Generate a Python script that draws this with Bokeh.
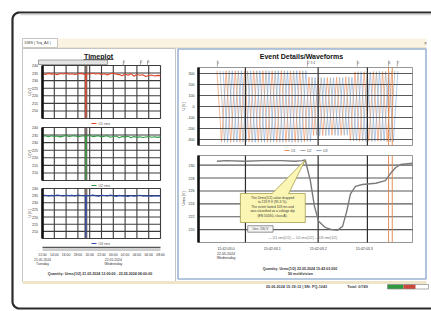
import numpy as np
from bokeh.plotting import figure
from bokeh.models import Range1d
from bokeh.core.properties import value
from bokeh.embed import file_html
from bokeh.resources import INLINE

# ---------------- data ----------------
tab_label = "DMS | Tsq_A4 |"
left_title = "Timeplot"
right_title = "Event Details/Waveforms"

# trend (Timeplot): hours since midnight of 21.05.2024
hours = [12.0, 12.5, 13.0, 13.5, 14.0, 14.5, 15.0, 15.5, 16.0, 16.5, 17.0, 17.5, 18.0, 18.5, 19.0,
         19.3, 19.35, 19.4,
         19.5, 20.0, 20.5, 21.0, 21.5, 22.0, 22.5, 23.0, 23.5, 24.0, 24.5, 25.0, 25.5, 26.0, 26.5,
         27.0, 27.5, 28.0, 28.5, 29.0, 29.5, 30.0, 30.5, 31.0, 31.5, 32.0]
u1_trend = [234.6, 234.1, 234.8, 234.3, 234.5, 233.9, 234.7, 234.4, 234.9, 234.2, 234.6, 234.0, 234.5, 234.8, 234.3,
            234.1, 205.5, 233.9,
            234.6, 234.2, 234.9, 234.4, 234.7, 234.1, 234.6, 233.8, 234.5, 234.9, 234.3, 234.0, 233.2, 234.4, 233.5,
            234.6, 232.9, 234.1, 233.6, 233.9, 232.8, 233.4, 233.7, 233.1, 233.5, 233.3]
u2_trend = [234.2, 234.5, 233.9, 234.6, 234.1, 234.4, 233.8, 234.3, 234.7, 234.0, 234.4, 234.6, 233.9, 234.2, 234.5,
            234.0, 205.5, 233.8,
            234.4, 234.7, 234.0, 234.3, 234.6, 233.7, 234.2, 234.5, 233.6, 234.1, 234.4, 233.3, 234.0, 233.8, 234.3,
            233.2, 234.0, 233.5, 233.9, 233.4, 233.7, 234.0, 233.6, 233.9, 233.5, 233.8]
u3_trend = [235.0, 235.3, 234.8, 235.2, 234.9, 235.4, 235.1, 234.7, 235.3, 235.0, 235.2, 234.8, 235.4, 235.1, 234.9,
            235.0, 205.5, 234.8,
            235.2, 234.9, 235.5, 235.0, 234.6, 235.3, 235.1, 234.8, 235.4, 234.9, 234.5, 235.2, 234.7, 235.0, 234.4,
            235.1, 234.6, 234.9, 235.3, 234.7, 234.8, 235.0, 234.6, 234.9, 234.7, 234.8]
trend_names = ["U1 rms", "U2 rms", "U3 rms"]
trend_ymin, trend_ymax = 205, 240
trend_grid_y = [205, 210, 215, 220, 225, 230, 235, 240]
trend_yticks = [210, 215, 220, 225, 230, 235, 240]
trend_xmin, trend_xmax = 12, 32
trend_grid_x = [12, 14, 16, 18, 20, 22, 24, 26, 28, 30, 32]
trend_xtick_labels = ["12:00", "14:00", "16:00", "18:00", "20:00", "22:00",
                      "00:00", "02:00", "04:00", "06:00", "08:00"]
trend_date_hours = [12, 24]
trend_dates = ["21.05.2024", "22.05.2024"]
trend_days = ["Tuesday", "Wednesday"]
trend_event_hour = [19.35]
trend_marker_hours = [25.7, 28.6, 29.8]
trend_marker_labels = ["1", "2", "3"]
trend_caption = "Quantity: Urms(1/2)  21.05.2024 12:00:00 - 22.05.2024 08:00:00"

# waveforms (ms from 15:42:03.000), peak samples every half period
wave_t = np.arange(39) * 10 - 20
phase_shift_ms = [0.0, 6.67, 13.33]
ua_peaks = [326, -324, 325, -326, 324, -325, 326, -324, 325, -325,
            324, -326, 325, -324, 326, -325, 324, -325, 325, -323,
            268, -264, 262, -265, 263, -262, 266, -264, 270, -312,
            316, -318, 317, -318, 319, -317, 318, -321, 324]
ub_peaks = [325, -325, 326, -324, 325, -326, 324, -325, 325, -324,
            326, -325, 324, -326, 325, -324, 325, -326, 324, -318,
            265, -262, 264, -266, 261, -263, 265, -262, 268, -315,
            317, -316, 318, -319, 317, -318, 320, -322, 325]
uc_peaks = [324, -326, 325, -325, 326, -324, 325, -326, 324, -325,
            325, -324, 326, -325, 324, -326, 325, -324, 326, -320,
            263, -266, 261, -264, 262, -265, 263, -261, 266, -314,
            318, -317, 316, -318, 320, -316, 319, -320, 323]
wave_names = ["U1", "U2", "U3"]
wave_ymin, wave_ymax = -355, 355
wave_yticks = [-300, -200, -100, 0, 100, 200, 300]

# half-cycle rms
rms_t = [-20, 0, 40, 80, 120, 150, 165, 172, 183, 192, 201, 216, 230, 242, 253,
         262, 270, 281, 296, 325, 346, 357, 368, 379, 405]
rms_u = [230.6, 230.7, 230.6, 230.7, 230.7, 230.6, 230.7, 230.8, 227.6, 223.6, 221.3, 220.3, 220.0, 219.9, 220.5,
         222.8, 225.5, 226.7, 227.0, 227.2, 227.6, 228.7, 229.6, 230.1, 230.3]
rms_ymin, rms_ymax = 218, 231.5
rms_yticks = [220, 222, 224, 226, 228, 230]
t_min, t_max = -60, 405
time_ticks = [0, 100, 200, 300]
time_tick_labels = ["15:42:03.0", "15:42:03.1", "15:42:03.2", "15:42:03.3"]
event_date = ["22.05.2024", "Wednesday"]
cursor_ms = [42, 200, 307]
cursor2_ms = [353, 361]
event_marker_ms = [-19, 177, 285, 353, 372]
event_marker_labels = ["1", "2 3 4", "5", "6", "7"]
callout_lines = ["The Urms(1/2) value dropped", "to 219.9 V (95.3 %).",
                 "The event lasted 103 ms and",
                 "was classified as a voltage dip", "(EN 50160, class A)."]
ues_label = "Ues: 230 V"
rms_legend = "\u2014 U1 rms(1/2)     \u2014 U2 rms(1/2)     \u2014 U3 rms(1/2)"
right_caption = ["Quantity: Urms(1/2)  22.05.2024 15:42:03.000", "50 ms/division"]
status_texts = ["05.06.2024 15:18:12 | SN: PQ-1043", "Total: 0/749"]

# ---------------- page / layout ----------------
FONT = value("Liberation Sans")
W, H = 431, 311
X0, Y0 = 0, 0          # chrome is laid out in window pixels

p = figure(width=W, height=H, output_backend="svg", toolbar_location=None,
           x_range=Range1d(X0, X0 + W), y_range=Range1d(Y0 + H, Y0),
           x_axis_type=None, y_axis_type=None, outline_line_color=None,
           min_border_left=0, min_border_right=0, min_border_top=0, min_border_bottom=0)
p.background_fill_color = "white"
p.border_fill_color = "white"


def xmap(name, d0, d1, p0, p1):
    k = (d1 - d0) / (p1 - p0)
    p.extra_x_ranges[name] = Range1d(start=d0 + (X0 - p0) * k, end=d0 + (X0 + W - p0) * k)


def ymap(name, d0, d1, p0, p1):
    k = (d1 - d0) / (p1 - p0)
    p.extra_y_ranges[name] = Range1d(start=d0 + (Y0 + H - p0) * k, end=d0 + (Y0 - p0) * k)


def txt(x, y, s, size="4px", color="#333333", align="center", base="middle", style="normal", angle=0, **kw):
    p.text(x=x, y=y, text=s, text_font=FONT, text_font_size=size, text_color=color,
           text_align=align, text_baseline=base, text_font_style=style, angle=angle, **kw)


# outer window frame with rounded corners
a1 = np.linspace(1.5 * np.pi, np.pi, 10)
a2 = np.linspace(np.pi, 0.5 * np.pi, 10)
fx = [431] + list(19 + 7 * np.cos(a1)) + list(19 + 7 * np.cos(a2)) + [431]
fy = [12] + list(19 + 7 * np.sin(a1)) + list(301 + 7 * np.sin(a2)) + [308]
p.line(fx, fy, line_color="#2a2a2a", line_width=2.2)
p.line([20, 431], [14, 14], line_color="#d4d4d4", line_width=1.5)

# tab bar
p.quad(left=[57], right=[426], top=[38], bottom=[47], fill_color="#fbf3e1", line_color=None)
p.quad(left=[22], right=[57], top=[38], bottom=[47], fill_color="white", line_color="#b5b5b5", line_width=0.8)
p.line([22, 426], [47.5, 47.5], line_color="#d8cfb8", line_width=1)
txt([24], [42.5], [tab_label], size="3.8px", align="left", color="#444444")
txt([425], [42.5], ["\u00d7"], size="5px", color="#666666")

# panels
p.quad(left=[22], right=[175], top=[48], bottom=[281], fill_color="white", line_color="#c4c4c4", line_width=1)
p.quad(left=[177.5], right=[425.5], top=[48.5], bottom=[278.5], fill_color="white", line_color="#9db5d4", line_width=1.6)
p.quad(left=[22], right=[426], top=[280.5], bottom=[283.5], fill_color="#eee5c9", line_color=None)

txt([98], [56], [left_title], size="7px", style="bold", color="#111111")
p.line([83, 113], [59, 59], line_color="#222222", line_width=0.8)
p.quad(left=[38], right=[107], top=[59.5], bottom=[64], fill_color="#e3e3e3", line_color="#8a8a8a", line_width=0.8)
txt([301], [56], [right_title], size="7px", style="bold", color="#111111")

# ---------------- trend plots ----------------
xmap("lx", trend_xmin, trend_xmax, 42, 160)
trend_boxes = [(65, 118), (127, 180), (188, 238)]
trend_colors = ["#e0452c", "#2f9a42", "#2b48ad"]
trend_series = [u1_trend, u2_trend, u3_trend]
for i, ((top, bot), col, vals, nm) in enumerate(zip(trend_boxes, trend_colors, trend_series, trend_names)):
    yn = f"ly{i}"
    ymap(yn, trend_ymin, trend_ymax, bot, top)
    kw = dict(x_range_name="lx", y_range_name=yn)
    p.quad(left=[trend_xmin], right=[trend_xmax], bottom=[trend_ymin], top=[trend_ymax],
           fill_color="white", line_color="#777777", line_width=0.8, **kw)
    p.segment(x0=[trend_xmin] * len(trend_grid_y), x1=[trend_xmax] * len(trend_grid_y),
              y0=trend_grid_y, y1=trend_grid_y, line_color="#3c3c3c", line_width=1.1, **kw)
    p.segment(x0=trend_grid_x, x1=trend_grid_x, y0=[trend_ymin] * len(trend_grid_x),
              y1=[trend_ymax] * len(trend_grid_x), line_color="#3c3c3c", line_width=1.1, **kw)
    p.segment(x0=trend_event_hour, x1=trend_event_hour, y0=[trend_ymin], y1=[trend_ymax],
              line_color="#5b4a44", line_width=3, line_alpha=0.8, **kw)
    p.line(hours, vals, line_color=col, line_width=1.1, **kw)
    p.segment(x0=[trend_xmin], x1=[trend_xmin], y0=[trend_ymin], y1=[trend_ymax],
              line_color="#111111", line_width=2.6, **kw)
    txt([37.5] * len(trend_yticks), trend_yticks, [str(v) for v in trend_yticks],
        size="3.6px", align="right", y_range_name=yn)
    txt([29], [(top + bot) / 2], ["U [V]"], size="3.6px", angle=np.pi / 2)
    ly = bot + 5
    p.line([91, 96], [ly, ly], line_color=col, line_width=1.2)
    txt([98], [ly], [nm], size="3.6px", align="left", color="#555555")

# event markers above the first trend plot
p.segment(x0=trend_marker_hours, x1=trend_marker_hours, y0=[60] * 3, y1=[65] * 3,
          x_range_name="lx", line_color="#888888", line_width=0.8)
txt(trend_marker_hours, [61] * 3, trend_marker_labels, size="3.4px", color="#666666",
    align="left", x_range_name="lx")

# time axis of the trend
p.line([42, 160], [247, 247], line_color="#555555", line_width=1.6)
p.line([42, 160], [249.5, 249.5], line_color="#9a9a9a", line_width=1)
txt(trend_grid_x, [254] * len(trend_grid_x), trend_xtick_labels, size="3.4px", x_range_name="lx")
txt(trend_date_hours, [259] * 2, trend_dates, size="3.4px", x_range_name="lx")
txt(trend_date_hours, [263.5] * 2, trend_days, size="3.4px", x_range_name="lx")
txt([100], [273], [trend_caption], size="3.6px", style="bold", color="#333333")

# ---------------- event plots ----------------
xmap("rx", t_min, t_max, 198, 412)
ymap("wy", wave_ymin, wave_ymax, 145, 67)
ymap("ry", rms_ymin, rms_ymax, 242, 155)
wk = dict(x_range_name="rx", y_range_name="wy")
rk = dict(x_range_name="rx", y_range_name="ry")

for kw, lo, hi in [(wk, wave_ymin, wave_ymax), (rk, rms_ymin, rms_ymax)]:
    p.quad(left=[t_min], right=[t_max], bottom=[lo], top=[hi], fill_color="white",
           line_color="#8a8a8a", line_width=0.9, **kw)

wave_colors = ["#f08c58", "#a3a3a3", "#86abdb"]
for sh, pk, col in zip(phase_shift_ms, [ua_peaks, ub_peaks, uc_peaks], wave_colors):
    p.line(wave_t + sh, pk, line_color=col, line_width=0.7, line_alpha=0.9, **wk)

for kw, lo, hi, ticks in [(wk, wave_ymin, wave_ymax, wave_yticks), (rk, rms_ymin, rms_ymax, rms_yticks)]:
    p.segment(x0=[t_min] * len(ticks), x1=[t_max] * len(ticks), y0=ticks, y1=ticks,
              line_color="#3c3c3c", line_width=1.1, line_alpha=0.85, **kw)
    p.segment(x0=cursor_ms, x1=cursor_ms, y0=[lo] * 3, y1=[hi] * 3, line_color="#2e2e2e", line_width=1.2, **kw)
    p.segment(x0=cursor2_ms, x1=cursor2_ms, y0=[lo] * 2, y1=[hi] * 2, line_color="#e0844a", line_width=0.9, **kw)
    p.segment(x0=[t_min], x1=[t_min], y0=[lo], y1=[hi], line_color="#111111", line_width=2.6, **kw)

txt([194] * len(wave_yticks), wave_yticks, [str(v) for v in wave_yticks], size="3.6px",
    align="right", y_range_name="wy")
txt([194] * len(rms_yticks), rms_yticks, [str(v) for v in rms_yticks], size="3.6px",
    align="right", y_range_name="ry")
txt([183], [106], ["U [V]"], size="3.6px", angle=np.pi / 2)
txt([183], [198], ["Urms [V]"], size="3.6px", angle=np.pi / 2)

# event markers above the waveform plot
p.segment(x0=event_marker_ms, x1=event_marker_ms, y0=[60] * 5, y1=[66] * 5,
          x_range_name="rx", line_color="#999999", line_width=0.8)
txt(event_marker_ms, [62] * 5, event_marker_labels, size="3.4px", color="#666666",
    align="left", x_range_name="rx")

# waveform legend
for lx0, nm, col in zip([284, 300, 316], wave_names, wave_colors):
    p.line([lx0, lx0 + 5], [150, 150], line_color=col, line_width=1.2)
    txt([lx0 + 6.5], [150], [nm], size="3.6px", align="left", color="#555555")

# rms curve
p.line(rms_t, rms_u, line_color="#7a7a7a", line_width=1.4, **rk)

# callout anchored to the start of the dip (in rms data units)
tip_t, tip_u = rms_t[7], rms_u[7]
p.patch([100, 136, tip_t], [225.6, 225.6, tip_u], fill_color="#fbf6b4", line_color="#a59c50",
        line_width=0.8, **rk)
p.quad(left=[31], right=[172], bottom=[221.1], top=[225.6], fill_color="#fbf6b4",
       line_color="#a59c50", line_width=0.8, **rk)
p.segment(x0=[101], x1=[135], y0=[225.6], y1=[225.6], line_color="#fbf6b4", line_width=1.4, **rk)
txt([101] * 5, [224.95, 224.25, 223.55, 222.85, 222.15], callout_lines, size="3.3px",
    color="#3a3a3a", **rk)
p.quad(left=[47], right=[102], bottom=[219.6], top=[220.6], fill_color="#f4f4f4",
       line_color="#7a7a7a", line_width=0.8, **rk)
txt([74.5], [220.1], [ues_label], size="3.2px", color="#444444", **rk)
txt([306], [237], [rms_legend], size="3.4px", color="#707070")

# time axis of the event plots
txt(time_ticks, [248] * 4, time_tick_labels, size="3.6px", x_range_name="rx")
txt(time_ticks[:1] * 2, [253, 257.5], event_date, size="3.6px", x_range_name="rx")
txt([300, 300], [268, 273], right_caption, size="3.6px", style="bold", color="#333333")

# status bar
txt([296], [286.5], status_texts[:1], size="3.8px", style="bold", color="#444444")
txt([357], [286.5], status_texts[1:], size="3.8px", style="bold", color="#444444")
p.quad(left=[387], right=[403], top=[284], bottom=[288.5], fill_color="#2e9a40", line_color=None)
p.quad(left=[403], right=[415], top=[284], bottom=[288.5], fill_color="#c9483a", line_color=None)
p.quad(left=[387], right=[428], top=[284], bottom=[288.5], fill_color=None, line_color="#8a8a8a", line_width=0.7)

open("out.html", "w").write(file_html(p, INLINE))
